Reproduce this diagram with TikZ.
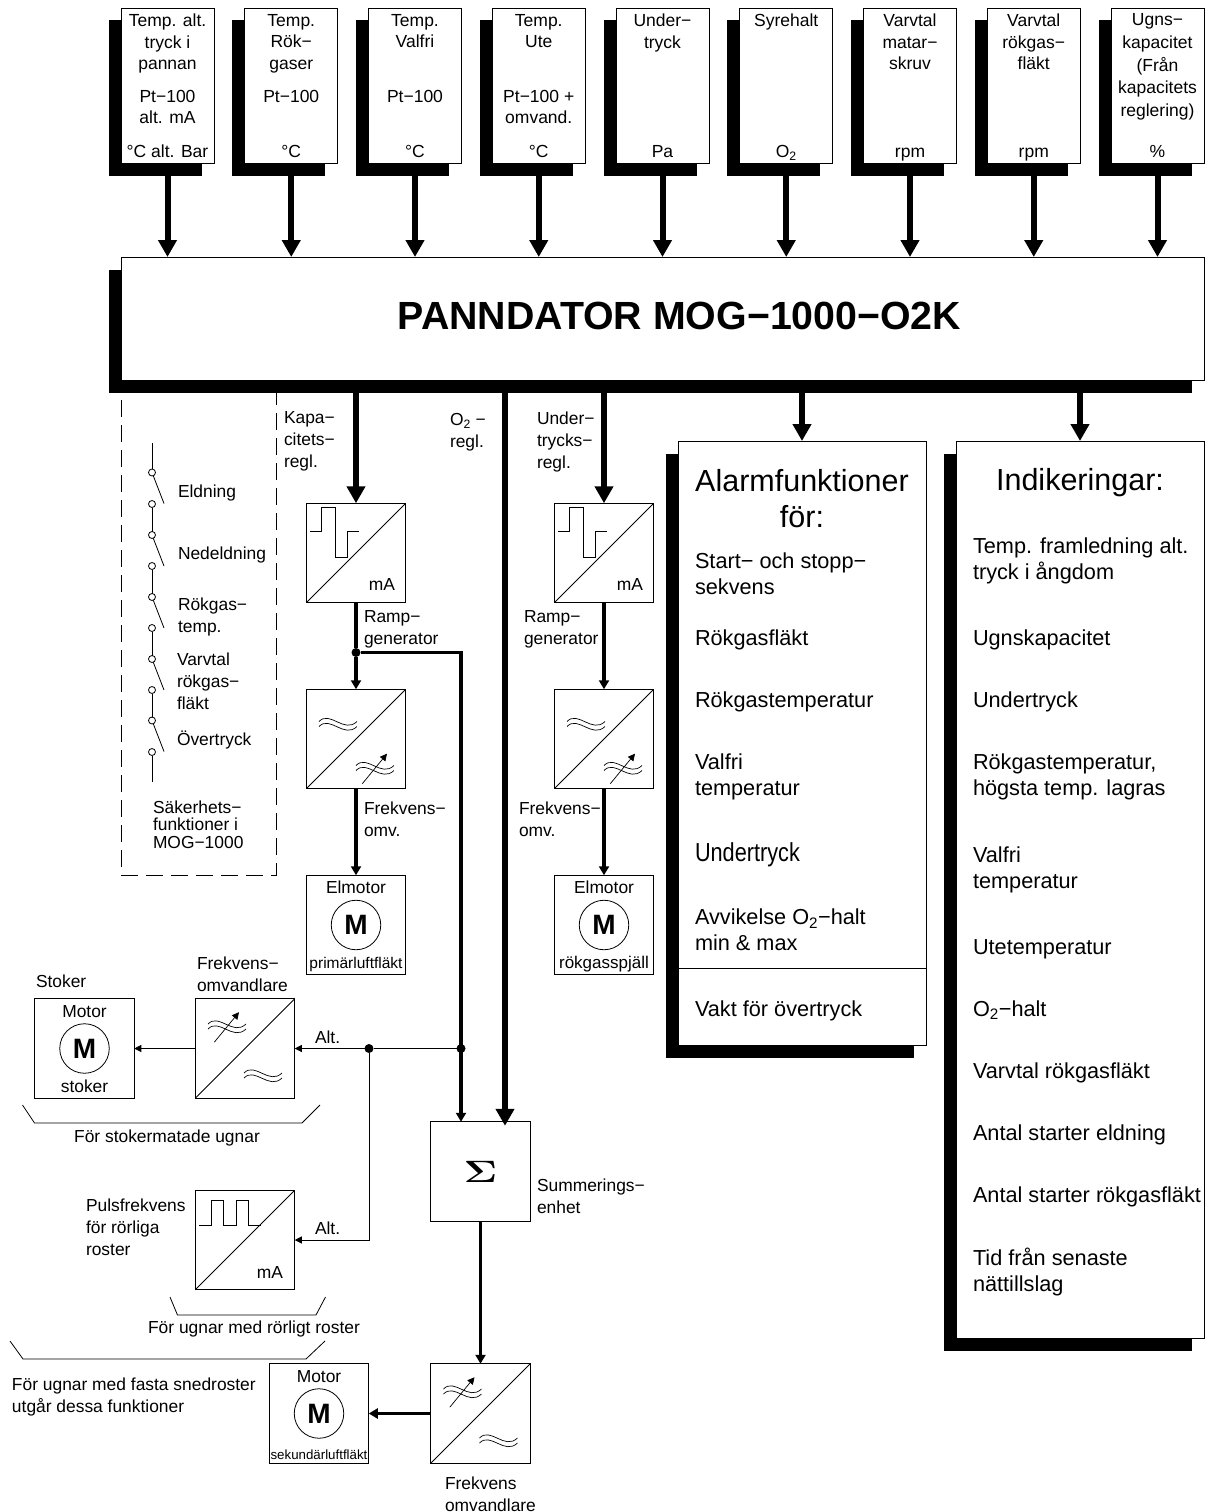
\documentclass[tikz,border=0pt]{standalone}
\usepackage{fontspec}
\setmainfont{Liberation Sans}
\usetikzlibrary{arrows.meta, positioning, calc, shadows}
\newcommand{\labelsize}{\fontsize{17.4}{22}\selectfont}
\newcommand{\listsize}{\fontsize{21.7}{26}\selectfont}
\newcommand{\headsize}{\fontsize{30.5}{36}\selectfont}
\newcommand{\titlesize}{\fontsize{39.3}{44}\selectfont}

\begin{document}
\begin{tikzpicture}[
  x=1pt, y=-1pt,
  every node/.style={outer sep=0pt},
  box/.style={rectangle, draw, fill=white, line width=0.8pt, minimum width=99.5pt, minimum height=99.5pt, inner sep=0pt},
  converter/.style={box, path picture={\draw[line width=0.8pt] (path picture bounding box.south west) -- (path picture bounding box.north east);}},
  heavy/.style={drop shadow={shadow xshift=-12.5pt, shadow yshift=-12.5pt, fill=black, opacity=1}},
  sensor/.style={box, heavy, minimum width=93pt, minimum height=155pt},
  tag/.style={inner sep=0pt, align=left, anchor=west, yshift=-2pt, font=\labelsize, execute at begin node=\strut, execute at end node=\strut},
  sensortag/.style={tag, align=center, anchor=center, font=\fontsize{17.5}{21.5}\selectfont},
  centertag/.style={tag, align=center, anchor=center},
  item/.style={tag, font=\listsize},
  motorcircle/.style={circle, draw, line width=0.8pt, minimum size=49.5pt, inner sep=0pt, font=\fontsize{28}{30}\selectfont\bfseries},
  contact/.style={circle, draw, fill=white, line width=0.8pt, minimum size=7pt, inner sep=0pt},
  dot/.style={circle, fill=black, minimum size=9pt, inner sep=0pt},
  fatarrow/.style={line width=6pt, -{Triangle[length=17pt,width=18pt]}},
  midarrow/.style={line width=3.5pt, -{Triangle[length=9pt,width=10pt]}},
  thinarrow/.style={line width=0.8pt, -{Triangle[length=7pt,width=7pt]}},
  plainwave/.pic={
    \draw[line width=0.7pt] (-19,-2.5) .. controls (-8,-14) and (6,10) .. (19,-2.5);
    \draw[line width=0.7pt] (-19,2.5) .. controls (-8,-9) and (6,15) .. (19,2.5);
  },
  varwave/.pic={
    \draw[line width=0.7pt] (-19,-2.5) .. controls (-8,-14) and (6,10) .. (19,-2.5);
    \draw[line width=0.7pt] (-19,2.5) .. controls (-8,-9) and (6,15) .. (19,2.5);
    \draw[line width=0.7pt, -{Triangle[length=7pt,width=7pt]}] (-12.7,15.7) -- (12,-14.3);
  },
  stepcurve/.pic={
    \draw[line width=0.8pt] (-46,-22) -- (-34.5,-22) -- (-34.5,-46) -- (-21,-46) -- (-21,4) -- (-9,4) -- (-9,-22) -- (3,-22);
  },
  pulsecurve/.pic={
    \draw[line width=0.8pt] (-46,-15) -- (-33.5,-15) -- (-33.5,-40) -- (-22,-40) -- (-22,-15) -- (-9,-15) -- (-9,-40) -- (3,-40) -- (3,-15) -- (16,-15);
  }
]
  \useasboundingbox (0,0) rectangle (1211,1512);
  \fill[white] (0,0) rectangle (1211,1512);

  % safety box lies behind the main unit
  \node[draw, dashed, dash pattern=on 17pt off 8pt, line width=0.8pt, minimum width=155pt, minimum height=495pt] (safety) at (198.5,627.5) {};

  % measuring inputs
  \node[sensor] (t1) at (167.5,85.5) {};
  \node[sensor, right=30.75pt of t1] (t2) {};
  \node[sensor, right=30.75pt of t2] (t3) {};
  \node[sensor, right=30.75pt of t3] (t4) {};
  \node[sensor, right=30.75pt of t4] (t5) {};
  \node[sensor, right=30.75pt of t5] (t6) {};
  \node[sensor, right=30.75pt of t6] (t7) {};
  \node[sensor, right=30.75pt of t7] (t8) {};
  \node[sensor, right=30.75pt of t8] (t9) {};

  \node[sensortag, below=4pt of t1.north] (t1top) {Temp. alt.\\tryck i\\pannan};
  \node[sensortag, below=4pt of t2.north] (t2top) {Temp.\\Rök−\\gaser};
  \node[sensortag, below=4pt of t3.north] (t3top) {Temp.\\Valfri};
  \node[sensortag, below=4pt of t4.north] (t4top) {Temp.\\Ute};
  \node[sensortag, below=4pt of t5.north] (t5top) {Under−\\tryck};
  \node[sensortag, below=1pt of t6.north] (t6top) {Syrehalt};
  \node[sensortag, below=4pt of t7.north] (t7top) {Varvtal\\matar−\\skruv};
  \node[sensortag, below=4pt of t8.north] (t8top) {Varvtal\\rökgas−\\fläkt};
  \node[sensortag, font=\fontsize{17.5}{22.8}\selectfont, below=3.5pt of t9.north] (t9top) {Ugns−\\kapacitet\\(Från\\kapacitets\\reglering)};

  \node[sensortag, below=80pt of t1.north] (t1mid) {Pt−100\\alt. mA};
  \node[sensortag, below=77pt of t2.north] (t2mid) {Pt−100};
  \node[sensortag, below=77pt of t3.north] (t3mid) {Pt−100};
  \node[sensortag, below=80pt of t4.north] (t4mid) {Pt−100 +\\omvand.};

  \node[sensortag, above=1pt of t1.south] (t1unit) {°C alt. Bar};
  \node[sensortag, above=1pt of t2.south] (t2unit) {°C};
  \node[sensortag, above=1pt of t3.south] (t3unit) {°C};
  \node[sensortag, above=1pt of t4.south] (t4unit) {°C};
  \node[sensortag, above=1pt of t5.south] (t5unit) {Pa};
  \node[sensortag, above=1pt of t6.south] (t6unit) {O\textsubscript{2}};
  \node[sensortag, above=1pt of t7.south] (t7unit) {rpm};
  \node[sensortag, above=1pt of t8.south] (t8unit) {rpm};
  \node[sensortag, above=1pt of t9.south] (t9unit) {\%};

  % main unit
  \node[box, heavy, minimum width=1083pt, minimum height=123pt] (main) at (662.5,318.5) {};
  \node[font=\titlesize\bfseries, inner sep=0pt] (title) at (679.5,316) {PANNDATOR MOG−1000−O2K};

  % safety chain
  \node[contact] (c1) at (152,472.5) {};
  \node[contact] (c2) at (152,504) {};
  \node[contact] (c3) at (152,535) {};
  \node[contact] (c4) at (152,566) {};
  \node[contact] (c5) at (152,597) {};
  \node[contact] (c6) at (152,628) {};
  \node[contact] (c7) at (152,659) {};
  \node[contact] (c8) at (152,690) {};
  \node[contact] (c9) at (152,720.5) {};
  \node[contact] (c10) at (152,752) {};
  \coordinate (chaintop) at (152,443);
  \coordinate (chainend) at (152,782);
  \draw[line width=0.8pt] (chaintop) -- (c1);
  \draw[line width=0.8pt] (c2) -- (c3);
  \draw[line width=0.8pt] (c4) -- (c5);
  \draw[line width=0.8pt] (c6) -- (c7);
  \draw[line width=0.8pt] (c8) -- (c9);
  \draw[line width=0.8pt] (c10) -- (chainend);
  \draw[line width=0.8pt] (c1) -- ++(12,31);
  \draw[line width=0.8pt] (c3) -- ++(12,31);
  \draw[line width=0.8pt] (c5) -- ++(12,31);
  \draw[line width=0.8pt] (c7) -- ++(12,31);
  \draw[line width=0.8pt] (c9) -- ++(12,31);

  \node[tag] (sw1) at (178,491) {Eldning};
  \node[tag] (sw2) at (178,553) {Nedeldning};
  \node[tag] (sw3) at (178,616) {Rökgas−\\temp.};
  \node[tag] (sw4) at (177,682) {Varvtal\\rökgas−\\fläkt};
  \node[tag] (sw5) at (177,739) {Övertryck};
  \node[tag, font=\fontsize{17.4}{17.5}\selectfont] (safetytag) at (153,825) {Säkerhets−\\funktioner i\\MOG−1000};

  % capacity branch
  \node[converter] (k1) at (356,553) {};
  \node[converter, below=86.5pt of k1] (k2) {};
  \node[box, below=86.5pt of k2] (elm1) {};
  \pic at (k1) {stepcurve};
  \node[tag, anchor=center] (k1unit) at ($(k1)+(26,31)$) {mA};
  \pic at ($(k2)+(-18,-15)$) {plainwave};
  \pic at ($(k2)+(19,29)$) {varwave};
  \node[motorcircle] (m1) at (elm1) {M};
  \node[centertag, above=2pt of m1.north] (elm1top) {Elmotor};
  \node[centertag, font=\fontsize{15.5}{18}\selectfont, below=4pt of m1.south] (elm1low) {primärluftfläkt};

  % draft branch
  \node[converter] (k5) at (604,553) {};
  \node[converter, below=86.5pt of k5] (k6) {};
  \node[box, below=86.5pt of k6] (elm2) {};
  \pic at (k5) {stepcurve};
  \node[tag, anchor=center] (k5unit) at ($(k5)+(26,31)$) {mA};
  \pic at ($(k6)+(-18,-15)$) {plainwave};
  \pic at ($(k6)+(19,29)$) {varwave};
  \node[motorcircle] (m2) at (elm2) {M};
  \node[centertag, above=2pt of m2.north] (elm2top) {Elmotor};
  \node[centertag, font=\fontsize{17}{18}\selectfont, below=4pt of m2.south] (elm2low) {rökgasspjäll};

  \node[tag] (kapatag) at (284,441) {Kapa−\\citets−\\regl.};
  \node[tag] (o2tag) at (450,432) {O\textsubscript{2} −\\regl.};
  \node[tag] (undertag) at (537,441) {Under−\\trycks−\\regl.};
  \node[tag] (ramp1) at (364,629) {Ramp−\\generator};
  \node[tag] (ramp2) at (524,629) {Ramp−\\generator};
  \node[tag] (frek1) at (364,820) {Frekvens−\\omv.};
  \node[tag] (frek2) at (519,820) {Frekvens−\\omv.};

  % alarm list
  \node[box, heavy, minimum width=248pt, minimum height=604pt] (alarm) at (802,743) {};
  \node[centertag, font=\headsize] (alarmhead) at (802,502) {Alarmfunktioner\\för:};
  \node[item] (al1) at (695,576) {Start− och stopp−\\sekvens};
  \node[item] (al2) at (695,638) {Rökgasfläkt};
  \node[item] (al3) at (695,700) {Rökgastemperatur};
  \node[item] (al4) at (695,777) {Valfri\\temperatur};
  \node[item] (al5) at (695,854) {\scalebox{1}[1.2]{Undertryck}};
  \node[item] (al6) at (695,932) {Avvikelse O\textsubscript{2}−halt\\min \& max};
  \node[item] (al7) at (695,1009) {Vakt för övertryck};
  \coordinate (alsplit) at (802,968);
  \draw[line width=0.8pt] (alarm.west |- alsplit) -- (alarm.east |- alsplit);

  % indication list
  \node[box, heavy, minimum width=248pt, minimum height=897pt] (indik) at (1080,889.5) {};
  \node[centertag, font=\headsize] (indikhead) at (1080,481) {Indikeringar:};
  \node[item] (in1) at (973,560.5) {Temp. framledning alt.\\tryck i ångdom};
  \node[item] (in2) at (973,638) {Ugnskapacitet};
  \node[item] (in3) at (973,700) {Undertryck};
  \node[item] (in4) at (973,777) {Rökgastemperatur,\\högsta temp. lagras};
  \node[item] (in5) at (973,870) {Valfri\\temperatur};
  \node[item] (in6) at (973,947) {Utetemperatur};
  \node[item] (in7) at (973,1009) {O\textsubscript{2}−halt};
  \node[item] (in8) at (973,1071) {Varvtal rökgasfläkt};
  \node[item] (in9) at (973,1133) {Antal starter eldning};
  \node[item] (in10) at (973,1195) {Antal starter rökgasfläkt};
  \node[item] (in11) at (973,1272) {Tid från senaste\\nättillslag};

  % stoker and grate units
  \node[converter] (k3) at (245,1048.5) {};
  \node[box, left=61pt of k3] (stoker) {};
  \pic at ($(k3)+(-18,-22)$) {varwave};
  \pic at ($(k3)+(18,27)$) {plainwave};
  \node[motorcircle] (m3) at (stoker) {M};
  \node[centertag, above=2pt of m3.north] (stokertop) {Motor};
  \node[centertag, below=2pt of m3.south] (stokerlow) {stoker};
  \node[tag] (stokertag) at (36,981) {Stoker};
  \node[tag] (frek3) at (197,975) {Frekvens−\\omvandlare};
  \node[tag] (alt1) at (315,1037) {Alt.};
  \node[centertag] (forstoker) at (167,1136) {För stokermatade ugnar};
  \draw[line width=0.8pt] (22.5,1105) -- (34.5,1123) -- (302,1123) -- (320,1105);

  \node[converter] (k4) at (245,1240) {};
  \pic at (k4) {pulsecurve};
  \node[tag, anchor=center] (k4unit) at ($(k4)+(25,32)$) {mA};
  \node[tag] (pulstag) at (86,1228) {Pulsfrekvens\\för rörliga\\roster};
  \node[tag] (alt2) at (315,1228) {Alt.};
  \node[centertag] (forrorligt) at (254,1327) {För ugnar med rörligt roster};
  \draw[line width=0.8pt] (170,1297) -- (177.5,1315) -- (316,1315) -- (325.5,1297);
  \draw[line width=0.8pt] (10,1341) -- (23,1359) -- (306,1359) -- (325,1341);
  \node[tag] (forfasta) at (12,1396) {För ugnar med fasta snedroster\\utgår dessa funktioner};

  % summing unit and secondary fan
  \node[box] (sigma) at (480.5,1171.5) {\raisebox{-3pt}{\scalebox{1.67}[1.24]{\fontsize{24.88}{26}\selectfont\boldmath$\Sigma$}}};
  \node[tag] (sumtag) at (537,1197) {Summerings−\\enhet};
  \node[converter, below=142.5pt of sigma] (k7) {};
  \node[box, left=62pt of k7] (sekund) {};
  \pic at ($(k7)+(-18,-22)$) {varwave};
  \pic at ($(k7)+(18,27)$) {plainwave};
  \node[motorcircle] (m4) at (sekund) {M};
  \node[centertag, above=2pt of m4.north] (sekundtop) {Motor};
  \node[centertag, font=\fontsize{13.3}{16}\selectfont, below=8pt of m4.south] (sekundlow) {sekundärluftfläkt};
  \node[tag] (frek4) at (445,1495) {Frekvens\\omvandlare};

  % junctions
  \node[dot] (rampdot) at (356,652.5) {};
  \node[dot] (sumdot) at (461,1048.5) {};
  \node[dot] (altdot) at (369,1048.5) {};
  \coordinate (o2in) at (505,393);

  % connectors
  \draw[fatarrow] (t1) -- (t1 |- main.north);
  \draw[fatarrow] (t2) -- (t2 |- main.north);
  \draw[fatarrow] (t3) -- (t3 |- main.north);
  \draw[fatarrow] (t4) -- (t4 |- main.north);
  \draw[fatarrow] (t5) -- (t5 |- main.north);
  \draw[fatarrow] (t6) -- (t6 |- main.north);
  \draw[fatarrow] (t7) -- (t7 |- main.north);
  \draw[fatarrow] (t8) -- (t8 |- main.north);
  \draw[fatarrow] (t9) -- (t9 |- main.north);
  \draw[fatarrow] (k1 |- main.south) -- (k1);
  \draw[fatarrow] (k5 |- main.south) -- (k5);
  \draw[fatarrow] (alarm |- main.south) -- (alarm);
  \draw[fatarrow] (indik |- main.south) -- (indik);
  \draw[fatarrow, shorten >=-4pt] (main.south -| o2in) -- (sigma.north -| o2in);
  \draw[line width=3.5pt] (k1) -- (rampdot);
  \draw[midarrow] (rampdot) -- (k2);
  \draw[midarrow] (k2) -- (elm1);
  \draw[midarrow] (k5) -- (k6);
  \draw[midarrow] (k6) -- (elm2);
  \draw[midarrow] (rampdot) -| (sigma.north -| sumdot);
  \draw[midarrow] (sigma) -- (k7);
  \draw[midarrow, line width=3pt] (k7) -- (sekund);
  \draw[line width=0.8pt] (sumdot) -- (altdot);
  \draw[thinarrow] (altdot) -- (k3);
  \draw[thinarrow] (altdot) |- (k4);
  \draw[thinarrow] (k3) -- (stoker);
\end{tikzpicture}
\end{document}
